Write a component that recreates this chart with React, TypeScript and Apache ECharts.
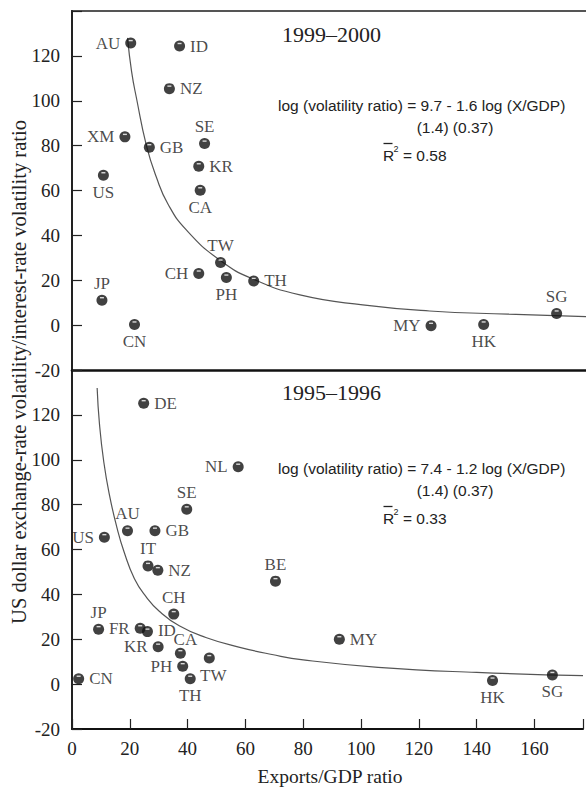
import React, { useEffect, useRef } from 'react';
import * as echarts from 'echarts';

const xTicks = [0, 20, 40, 60, 80, 100, 120, 140, 160];
const yTicks = [-20, 0, 20, 40, 60, 80, 100, 120];

// 1999–2000 panel
const topNames = ['AU', 'ID', 'NZ', 'XM', 'GB', 'SE', 'KR', 'US', 'CA', 'TW', 'CH', 'PH', 'TH', 'JP', 'CN', 'MY', 'HK', 'SG'];
const topX = [20.2, 37.0, 33.5, 18.2, 26.6, 45.6, 43.6, 10.8, 44.1, 51.1, 43.6, 53.1, 62.5, 10.3, 21.5, 123.5, 141.6, 166.7];
const topY = [125.7, 124.4, 105.4, 83.9, 79.3, 80.9, 70.8, 66.8, 60.1, 27.9, 23.0, 21.2, 19.7, 11.1, 0.3, -0.3, 0.3, 5.2];
const topPos = ['left', 'right', 'right', 'left', 'right', 'top', 'right', 'bottom', 'bottom', 'top', 'left', 'bottom', 'right', 'top', 'bottom', 'left', 'bottom', 'top'];
const topCurveX = [19.1, 20.5, 22.2, 25.6, 29, 33, 39.4, 50.8, 62.3, 78.4, 100, 123, 150, 176.8];
const topCurveY = [128, 113, 101, 80, 66, 54, 42.3, 29, 20.5, 13.5, 9, 6.3, 4.9, 3.8];

// 1995–1996 panel
const botNames = ['DE', 'NL', 'SE', 'AU', 'GB', 'US', 'IT', 'NZ', 'BE', 'CH', 'JP', 'FR', 'ID', 'KR', 'CA', 'TW', 'PH', 'TH', 'CN', 'MY', 'HK', 'SG'];
const botX = [24.8, 57.5, 39.7, 19.2, 28.7, 11.2, 26.3, 29.7, 70.4, 35.2, 9.2, 23.6, 26.1, 29.8, 37.5, 47.5, 38.3, 40.9, 2.3, 92.5, 145.5, 166.2];
const botY = [125.2, 96.9, 77.9, 68.4, 68.4, 65.5, 52.7, 50.8, 45.9, 31.2, 24.5, 24.9, 23.4, 16.7, 13.8, 11.6, 8.0, 2.4, 2.4, 20.0, 1.6, 4.1];
const botPos = ['right', 'left', 'top', 'top', 'right', 'left', 'top', 'right', 'top', 'top', 'top', 'left', 'right', 'left', 'top', 'bottom', 'left', 'bottom', 'right', 'right', 'bottom', 'bottom'];
const botCurveX = [8.7, 9.5, 11, 13, 15.5, 18, 21.6, 25.6, 30.2, 37.1, 46.3, 57.7, 69.2, 80, 105.9, 140, 176.8];
const botCurveY = [132, 116, 99, 84, 70, 59, 47, 39, 32.5, 26, 20.8, 16.5, 13.2, 10.8, 7.5, 5.2, 3.8];

const labelOffsets: Record<string, number[]> = { 'bot-TW': [4, 0], 'bot-CA': [5, 3], 'bot-ID': [0, -1] };

const SERIF = 'Liberation Serif';
const SANS = 'Liberation Sans';
const X_MAX = 176.8;

function pointData(names: string[], xs: number[], ys: number[], pos: string[], key: string) {
  return names.map((n, i) => ({
    value: [xs[i], ys[i]],
    name: n,
    label: {
      position: pos[i],
      distance: pos[i] === 'left' || pos[i] === 'right' ? 5 : 3,
      offset: labelOffsets[key + '-' + n] || [0, 0],
    },
  }));
}

function curveData(xs: number[], ys: number[]) {
  return xs.map((x, i) => [x, ys[i]]);
}

export default function App() {
  const ref = useRef<HTMLDivElement>(null);
  useEffect(() => {
    if (!ref.current) return;
    const chart = echarts.init(ref.current, null, { renderer: 'svg' });

    const mkX = (gi: number, showLabels: boolean) => ({
      type: 'value',
      gridIndex: gi,
      min: 0,
      max: X_MAX,
      interval: 20,
      axisLine: { show: true, onZero: false, lineStyle: { color: '#111', width: showLabels ? 2 : 2.6 } },
      axisTick: { show: showLabels, inside: true, length: 10, lineStyle: { color: '#222', width: 1.2 } },
      axisLabel: {
        show: showLabels,
        fontFamily: SERIF,
        fontSize: 19,
        color: '#222',
        margin: 10,
        formatter: (v: number) => (xTicks.includes(v) ? String(v) : ''),
      },
      splitLine: { show: false },
    });
    const mkY = (gi: number) => ({
      type: 'value',
      gridIndex: gi,
      min: -20,
      max: 140,
      interval: 20,
      axisLine: { show: true, onZero: false, lineStyle: { color: '#222', width: 2 } },
      axisTick: { show: true, inside: true, length: 10, lineStyle: { color: '#222', width: 1.2 } },
      axisLabel: {
        fontFamily: SERIF,
        fontSize: 19,
        color: '#222',
        margin: 12,
        formatter: (v: number) => (yTicks.includes(v) ? String(v) : ''),
      },
      splitLine: { show: false },
    });

    const markerSeries = (gi: number, data: any[]) => ({
      type: 'scatter',
      xAxisIndex: gi,
      yAxisIndex: gi,
      symbol: 'circle',
      symbolSize: 11,
      itemStyle: { color: '#111' },
      z: 3,
      label: {
        show: true,
        formatter: '{b}',
        fontFamily: SERIF,
        fontSize: 17,
        color: '#1a1a1a',
      },
      data,
    });
    const shineSeries = (gi: number, data: any[]) => ({
      type: 'scatter',
      xAxisIndex: gi,
      yAxisIndex: gi,
      symbol: 'rect',
      symbolSize: [4, 1.4],
      symbolOffset: [0, -2.5],
      itemStyle: { color: '#ffffff' },
      z: 4,
      silent: true,
      data: data.map((d: any) => d.value),
    });
    const curveSeries = (gi: number, data: number[][]) => ({
      type: 'line',
      xAxisIndex: gi,
      yAxisIndex: gi,
      data,
      smooth: 0.5,
      showSymbol: false,
      symbol: 'none',
      lineStyle: { color: '#555', width: 1.2 },
      z: 2,
    });

    const topData = pointData(topNames, topX, topY, topPos, 'top');
    const botData = pointData(botNames, botX, botY, botPos, 'bot');

    const eqStyle = { fontFamily: SANS, fontSize: 15.5, fill: '#222' };
    const eqBlock = (y0: number, eq: string, r2: string) => [
      { type: 'text', left: 278, top: y0 - 9, style: { ...eqStyle, text: eq } },
      { type: 'text', x: 455, y: y0 + 21, style: { ...eqStyle, text: '(1.4) (0.37)', textAlign: 'center', textVerticalAlign: 'middle' } },
      { type: 'text', x: 383, y: y0 + 49, style: { ...eqStyle, text: 'R', textVerticalAlign: 'middle' } },
      { type: 'text', x: 393.5, y: y0 + 43, style: { ...eqStyle, fontSize: 9, text: '2', textVerticalAlign: 'middle' } },
      { type: 'text', x: 403, y: y0 + 49, style: { ...eqStyle, text: '= ' + r2, textVerticalAlign: 'middle' } },
      { type: 'line', shape: { x1: 383.5, y1: y0 + 37.5, x2: 392.5, y2: y0 + 37.5 }, style: { stroke: '#222', lineWidth: 1.3 } },
    ];

    chart.setOption({
      animation: false,
      backgroundColor: '#ffffff',
      grid: [
        { left: 72, top: 11, right: 0, height: 359, containLabel: false },
        { left: 72, top: 370, right: 0, height: 359, containLabel: false },
      ],
      xAxis: [mkX(0, false), mkX(1, true)],
      yAxis: [mkY(0), mkY(1)],
      series: [
        curveSeries(0, curveData(topCurveX, topCurveY)),
        markerSeries(0, topData),
        shineSeries(0, topData),
        curveSeries(1, curveData(botCurveX, botCurveY)),
        markerSeries(1, botData),
        shineSeries(1, botData),
      ],
      graphic: [
        { type: 'line', shape: { x1: 71, y1: 11, x2: 586, y2: 11 }, style: { stroke: '#555', lineWidth: 2 } },
        { type: 'text', x: 282, y: 34, style: { text: '1999–2000', fontFamily: SERIF, fontSize: 22, fill: '#222', textVerticalAlign: 'middle' } },
        { type: 'text', x: 282, y: 392, style: { text: '1995–1996', fontFamily: SERIF, fontSize: 22, fill: '#222', textVerticalAlign: 'middle' } },
        ...eqBlock(106, 'log (volatility ratio) = 9.7 - 1.6 log (X/GDP)', '0.58'),
        ...eqBlock(469, 'log (volatility ratio) = 7.4 - 1.2 log (X/GDP)', '0.33'),
        {
          type: 'text',
          x: 19,
          y: 372,
          rotation: Math.PI / 2,
          style: {
            text: 'US dollar exchange-rate volatility/interest-rate volatility ratio',
            fontFamily: SERIF,
            fontSize: 20.5,
            fill: '#222',
            textAlign: 'center',
            textVerticalAlign: 'middle',
          },
        },
        {
          type: 'text',
          x: 330,
          y: 776,
          style: { text: 'Exports/GDP ratio', fontFamily: SERIF, fontSize: 19.5, fill: '#222', textAlign: 'center', textVerticalAlign: 'middle' },
        },
      ],
    });
    return () => chart.dispose();
  }, []);
  return <div ref={ref} style={{ position: 'absolute', left: 0, top: 0, width: 586, height: 788, background: '#fff' }} />;
}
